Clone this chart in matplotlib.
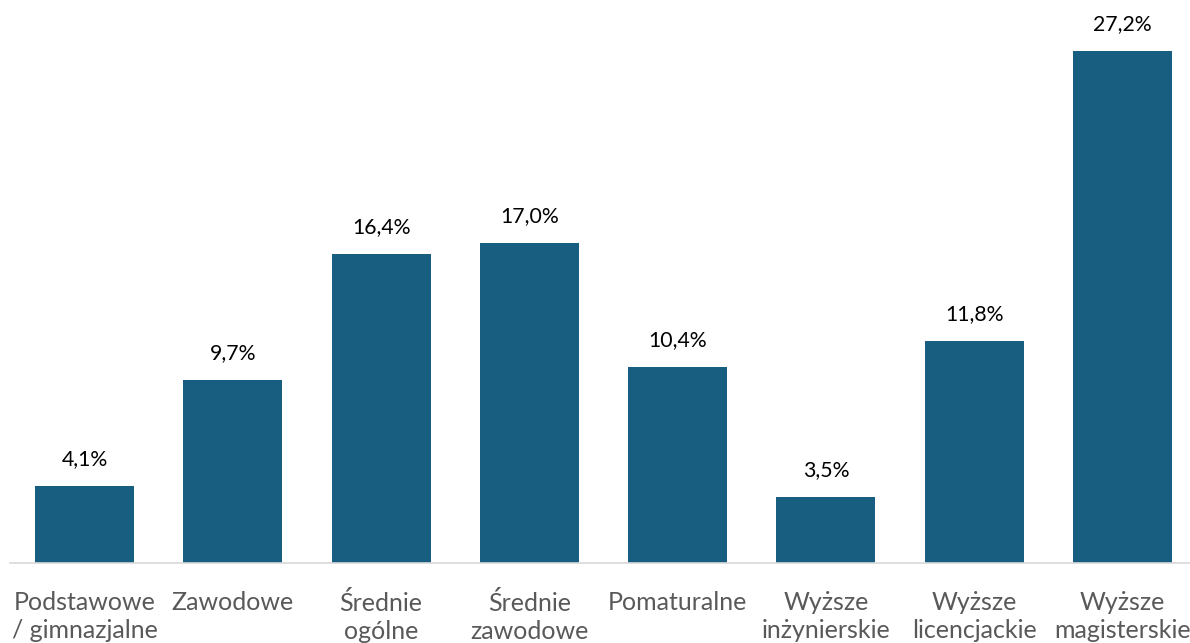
import matplotlib.pyplot as plt

categories = ["Podstawowe\n/ gimnazjalne", "Zawodowe", "Średnie\nogólne", "Średnie\nzawodowe",
              "Pomaturalne", "Wyższe\ninżynierskie", "Wyższe\nlicencjackie", "Wyższe\nmagisterskie"]
values = [4.1, 9.7, 16.4, 17.0, 10.4, 3.5, 11.8, 27.2]
labels = ["4,1%", "9,7%", "16,4%", "17,0%", "10,4%", "3,5%", "11,8%", "27,2%"]

plt.rcParams['font.family'] = ['Lato', 'DejaVu Sans']

fig = plt.figure(figsize=(11.9, 6.43), dpi=100)
ax = fig.add_axes([10.3 / 1190, 80 / 643, 1186.4 / 1190, 563 / 643])

x = range(len(values))
bars = ax.bar(x, values, width=0.667, color="#175e80", zorder=2)

for xi, v, lab in zip(x, values, labels):
    ax.text(xi, v + 0.9, lab, ha="center", va="bottom", fontsize=15.3, color="#000000")

ax.set_xlim(-0.5, len(values) - 0.5)
ax.set_ylim(0, 563 / 18.82)

for s in ["top", "right", "left"]:
    ax.spines[s].set_visible(False)
ax.spines["bottom"].set_color("#d9d9d9")
ax.spines["bottom"].set_linewidth(1.2)

ax.set_yticks([])
ax.set_xticks(list(x))
ax.set_xticklabels(categories, fontsize=18, color="#595959", linespacing=1.25)
ax.tick_params(axis="x", length=0, pad=20)

fig.savefig("out.png", dpi=100)
